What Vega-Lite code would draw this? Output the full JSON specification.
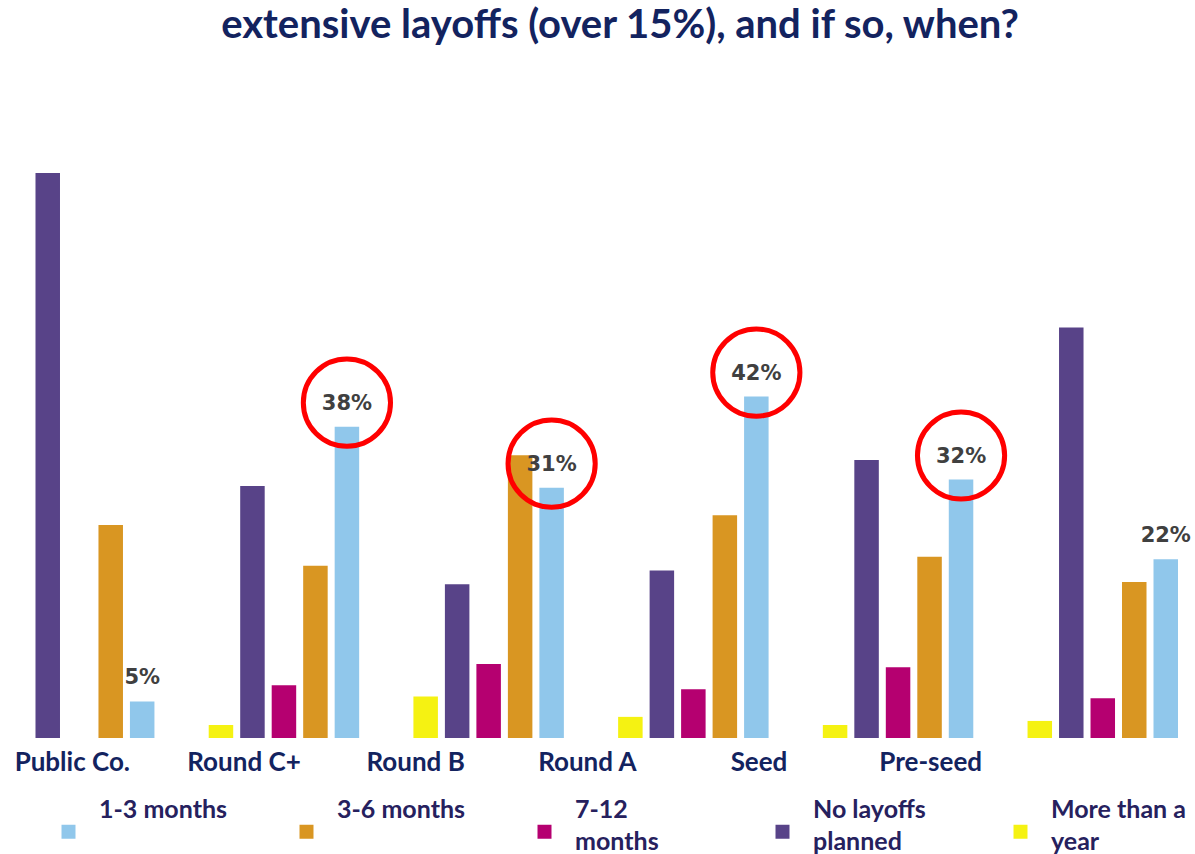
{
  "$schema": "https://vega.github.io/schema/vega-lite/v6.json",
  "autosize": {"type": "none"},
  "width": 1174,
  "height": 569,
  "padding": {"left": 4, "top": 169, "right": 17, "bottom": 116},
  "background": "white",
  "config": {"view": {"stroke": null}},
  "title": {
    "text": "extensive layoffs (over 15%), and if so, when?",
    "font": "Lato",
    "fontSize": 40,
    "fontWeight": "bold",
    "color": "#13235F",
    "anchor": "middle",
    "dx": 29,
    "offset": 123
  },
  "data": {
    "values": [
      {"group": "Public Co.", "series": "More than a year", "value": 0, "circled": false},
      {"group": "Public Co.", "series": "No layoffs planned", "value": 0.695, "circled": false},
      {"group": "Public Co.", "series": "7-12 months", "value": 0, "circled": false},
      {"group": "Public Co.", "series": "3-6 months", "value": 0.262, "circled": false},
      {"group": "Public Co.", "series": "1-3 months", "value": 0.045, "circled": false},
      {"group": "Round C+", "series": "More than a year", "value": 0.016, "circled": false},
      {"group": "Round C+", "series": "No layoffs planned", "value": 0.31, "circled": false},
      {"group": "Round C+", "series": "7-12 months", "value": 0.065, "circled": false},
      {"group": "Round C+", "series": "3-6 months", "value": 0.212, "circled": false},
      {"group": "Round C+", "series": "1-3 months", "value": 0.383, "circled": true},
      {"group": "Round B", "series": "More than a year", "value": 0.051, "circled": false},
      {"group": "Round B", "series": "No layoffs planned", "value": 0.189, "circled": false},
      {"group": "Round B", "series": "7-12 months", "value": 0.091, "circled": false},
      {"group": "Round B", "series": "3-6 months", "value": 0.348, "circled": false},
      {"group": "Round B", "series": "1-3 months", "value": 0.308, "circled": true},
      {"group": "Round A", "series": "More than a year", "value": 0.026, "circled": false},
      {"group": "Round A", "series": "No layoffs planned", "value": 0.206, "circled": false},
      {"group": "Round A", "series": "7-12 months", "value": 0.06, "circled": false},
      {"group": "Round A", "series": "3-6 months", "value": 0.274, "circled": false},
      {"group": "Round A", "series": "1-3 months", "value": 0.42, "circled": true},
      {"group": "Seed", "series": "More than a year", "value": 0.016, "circled": false},
      {"group": "Seed", "series": "No layoffs planned", "value": 0.342, "circled": false},
      {"group": "Seed", "series": "7-12 months", "value": 0.087, "circled": false},
      {"group": "Seed", "series": "3-6 months", "value": 0.223, "circled": false},
      {"group": "Seed", "series": "1-3 months", "value": 0.318, "circled": true},
      {"group": "Pre-seed", "series": "More than a year", "value": 0.021, "circled": false},
      {"group": "Pre-seed", "series": "No layoffs planned", "value": 0.505, "circled": false},
      {"group": "Pre-seed", "series": "7-12 months", "value": 0.049, "circled": false},
      {"group": "Pre-seed", "series": "3-6 months", "value": 0.192, "circled": false},
      {"group": "Pre-seed", "series": "1-3 months", "value": 0.22, "circled": false}
    ]
  },
  "layer": [
    {
      "encoding": {
        "x": {
          "field": "group",
          "type": "nominal",
          "sort": null,
          "scale": {
            "domain": ["Public Co.", "Round C+", "Round B", "Round A", "Seed", "Pre-seed"],
            "paddingInner": 0.265,
            "paddingOuter": 0
          },
          "axis": null
        },
        "xOffset": {
          "field": "series",
          "type": "nominal",
          "scale": {
            "domain": ["More than a year", "No layoffs planned", "7-12 months", "3-6 months", "1-3 months"],
            "paddingInner": 0.222,
            "paddingOuter": 0
          }
        },
        "y": {
          "field": "value",
          "type": "quantitative",
          "scale": {"domain": [0, 0.7], "nice": false, "zero": true},
          "axis": null
        }
      },
      "layer": [
        {
          "mark": {"type": "bar"},
          "encoding": {
            "color": {
              "field": "series",
              "type": "nominal",
              "scale": {
                "domain": ["1-3 months", "3-6 months", "7-12 months", "No layoffs planned", "More than a year"],
                "range": ["#90C7EB", "#D99622", "#B50070", "#584388", "#F5F212"]
              },
              "legend": {
                "title": null,
                "orient": "none",
                "legendX": 52,
                "legendY": 650,
                "direction": "horizontal",
                "columns": 5,
                "gridAlign": "all",
                "columnPadding": 60,
                "symbolType": "square",
                "symbolSize": 196,
                "symbolStrokeWidth": 0,
                "labelFont": "Lato",
                "labelFontSize": 25,
                "labelFontWeight": "bold",
                "labelColor": "#26215E",
                "labelOffset": 18,
                "labelLimit": 300,
                "labelBaseline": "line-bottom",
                "labelExpr": "datum.label == '7-12 months' ? ['7-12', 'months'] : datum.label == 'No layoffs planned' ? ['No layoffs', 'planned'] : datum.label == 'More than a year' ? ['More than a', 'year'] : [datum.label, '']",
                "encode": {
                  "labels": {
                    "update": {
                      "lineHeight": {"value": 32},
                      "dy": {"value": -5}
                    }
                  }
                }
              }
            }
          }
        },
        {
          "transform": [{"filter": "datum.series == '1-3 months'"}],
          "mark": {
            "type": "text",
            "baseline": "bottom",
            "dy": -13,
            "font": "DejaVu Sans",
            "fontSize": 21,
            "fontWeight": "bold",
            "color": "#404040"
          },
          "encoding": {
            "text": {"field": "value", "type": "quantitative", "format": ".0%"}
          }
        },
        {
          "transform": [{"filter": "datum.circled"}],
          "mark": {
            "type": "point",
            "shape": "circle",
            "size": 7600,
            "filled": false,
            "stroke": "#FF0000",
            "strokeWidth": 5,
            "opacity": 1,
            "yOffset": -24
          },
          "encoding": {}
        }
      ]
    },
    {
      "mark": {"type": "text", "opacity": 0, "text": ""},
      "encoding": {
        "x": {
          "field": "group",
          "type": "nominal",
          "sort": null,
          "scale": {
            "domain": ["Public Co.", "Round C+", "Round B", "Round A", "Seed", "Pre-seed"],
            "range": [-18, 1012],
            "paddingInner": 0,
            "paddingOuter": 0
          },
          "axis": {
            "orient": "bottom",
            "title": null,
            "domain": false,
            "ticks": false,
            "grid": false,
            "labelAngle": 0,
            "labelFont": "Lato",
            "labelFontSize": 26,
            "labelFontWeight": "bold",
            "labelColor": "#13235F",
            "labelPadding": 11,
            "labelLimit": 300
          }
        }
      }
    }
  ],
  "resolve": {"scale": {"x": "independent"}, "axis": {"x": "independent"}}
}
